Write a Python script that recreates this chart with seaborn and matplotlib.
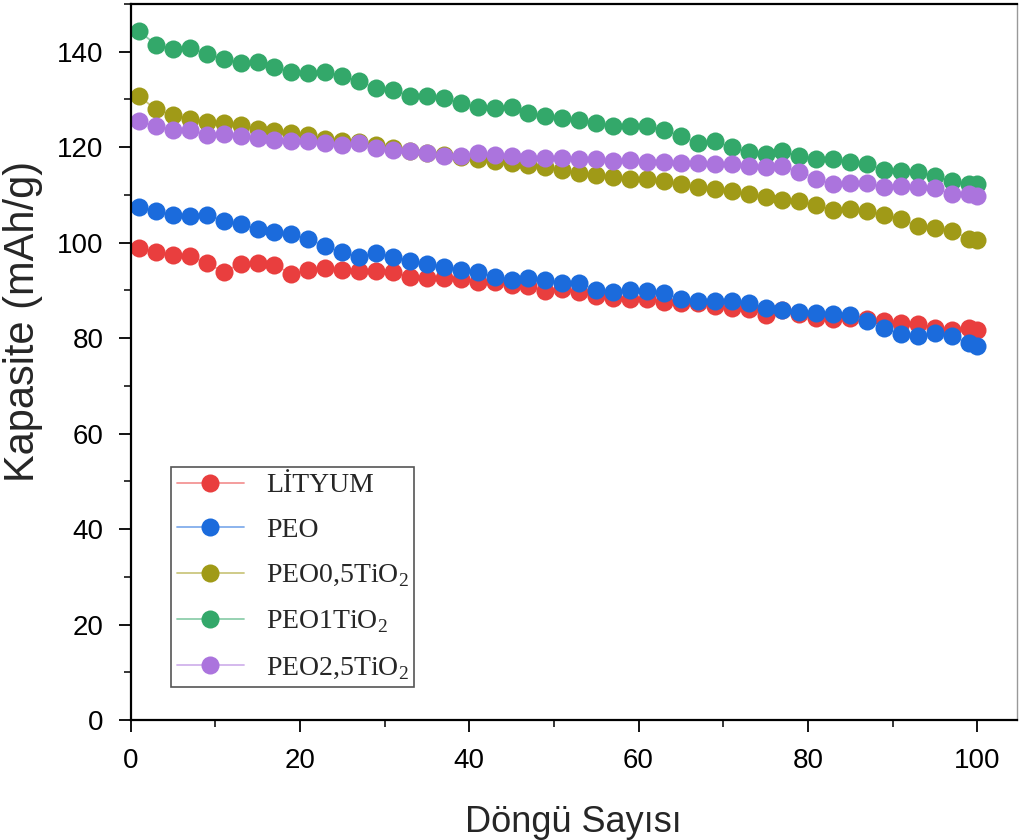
import matplotlib
matplotlib.use("Agg")
import matplotlib.pyplot as plt
import numpy as np
import pandas as pd
import seaborn as sns
from matplotlib.colors import to_rgb
from matplotlib.ticker import MultipleLocator

# Cycle numbers (every second cycle plus the last one)
cycles = list(range(1, 100, 2)) + [100]

# Discharge capacity (mAh/g) of each cell
lityum = [98.9, 98.0, 97.5, 97.3, 95.7, 93.9, 95.5, 95.7, 95.4, 93.4,
          94.3, 94.6, 94.3, 94.0, 94.0, 93.8, 92.9, 92.7, 92.7, 92.4,
          91.8, 91.7, 91.1, 91.0, 89.9, 90.3, 89.6, 88.9, 88.5, 88.3,
          88.2, 87.6, 87.4, 87.3, 86.8, 86.4, 86.1, 84.8, 85.8, 85.0,
          84.3, 84.0, 84.2, 84.0, 83.6, 83.2, 82.9, 82.2, 81.8, 82.2,
          81.8]
peo = [107.4, 106.6, 105.7, 105.5, 105.9, 104.6, 103.9, 102.9, 102.2, 101.8,
       100.8, 99.2, 98.0, 97.1, 97.8, 97.1, 96.2, 95.5, 95.0, 94.3,
       93.8, 92.9, 92.2, 92.6, 92.2, 91.5, 91.5, 90.1, 89.6, 90.1,
       89.9, 89.4, 88.2, 87.8, 87.7, 87.8, 87.4, 86.4, 85.8, 85.4,
       85.3, 85.0, 84.8, 83.5, 82.1, 80.9, 80.4, 81.1, 80.4, 79.0,
       78.3]
peo_05tio2 = [130.7, 127.9, 126.8, 125.9, 125.3, 125.1, 124.6, 123.8, 123.3, 123.0,
              122.5, 121.8, 121.4, 121.0, 120.5, 119.8, 119.3, 118.8, 118.3, 118.0,
              117.6, 117.1, 116.7, 116.3, 115.8, 115.2, 114.6, 114.1, 113.7, 113.4,
              113.4, 112.9, 112.2, 111.6, 111.3, 110.8, 110.1, 109.5, 109.0, 108.7,
              107.8, 106.9, 107.1, 106.7, 105.9, 105.0, 103.4, 103.1, 102.5, 100.8,
              100.6]
peo_1tio2 = [144.3, 141.5, 140.6, 140.8, 139.6, 138.5, 137.7, 137.8, 136.8, 135.8,
             135.6, 135.8, 134.9, 133.8, 132.4, 131.9, 130.8, 130.7, 130.3, 129.3,
             128.4, 128.2, 128.4, 127.2, 126.5, 126.1, 125.8, 125.1, 124.4, 124.5,
             124.4, 123.7, 122.3, 120.9, 121.2, 120.0, 119.0, 118.6, 119.1, 118.1,
             117.6, 117.6, 117.0, 116.4, 115.3, 115.1, 114.8, 113.9, 112.9, 112.3,
             112.2]
peo_25tio2 = [125.4, 124.4, 123.7, 123.7, 122.6, 122.8, 122.3, 121.9, 121.6, 121.2,
              121.2, 120.9, 120.5, 120.9, 119.8, 119.5, 119.1, 118.8, 118.1, 118.1,
              118.8, 118.4, 118.1, 117.7, 117.7, 117.7, 117.6, 117.6, 117.2, 117.4,
              117.0, 117.0, 116.7, 116.7, 116.4, 116.4, 116.0, 115.8, 116.0, 114.9,
              113.4, 112.2, 112.5, 112.5, 111.6, 111.8, 111.6, 111.5, 110.1, 110.1,
              109.7]

series_names = ["LİTYUM", "PEO", "PEO0,5TiO$_\\mathregular{2}$",
                "PEO1TiO$_\\mathregular{2}$", "PEO2,5TiO$_\\mathregular{2}$"]
series_values = [lityum, peo, peo_05tio2, peo_1tio2, peo_25tio2]
colors = ["#E93E3E", "#1B6BDC", "#A09A17", "#33A86A", "#AB74DD"]

frames = [pd.DataFrame({"Döngü": cycles, "Kapasite": vals, "Numune": name})
          for name, vals in zip(series_names, series_values)]
df = pd.concat(frames, ignore_index=True)

sns.set_style("ticks")
plt.rcParams["font.family"] = ["Liberation Sans", "DejaVu Sans"]
plt.rcParams["mathtext.fontset"] = "custom"
plt.rcParams["mathtext.rm"] = "Liberation Serif"

fig = plt.figure(figsize=(10.19, 8.4), dpi=100)
ax = fig.add_axes([130.5 / 1019, 120 / 840, (1017 - 130.5) / 1019, 716 / 840])

for name, col in zip(series_names, colors):
    sub = df[df["Numune"] == name]
    sns.lineplot(data=sub, x="Döngü", y="Kapasite", color=col, marker="o",
                 markersize=13, markeredgewidth=0, linewidth=1.3,
                 estimator=None, errorbar=None, legend=False, ax=ax)

# pale connecting lines, full-colour markers
for line, col in zip(ax.get_lines(), colors):
    rgb = np.array(to_rgb(col))
    line.set_color(tuple(rgb * 0.55 + 0.45))
    line.set_markerfacecolor(col)
    line.set_markeredgecolor(col)

ax.set_xlim(0, 104.7)
ax.set_ylim(0, 150)
ax.xaxis.set_major_locator(MultipleLocator(20))
ax.xaxis.set_minor_locator(MultipleLocator(10))
ax.yaxis.set_major_locator(MultipleLocator(20))
ax.yaxis.set_minor_locator(MultipleLocator(10))
ax.tick_params(which="major", direction="out", length=8.5, width=1.3,
               labelsize=20, colors="black")
ax.tick_params(axis="x", which="major", pad=12)
ax.tick_params(axis="y", which="major", pad=11)
ax.tick_params(which="minor", direction="out", length=5, width=1.3)
ax.tick_params(top=False, right=False, which="both")

for side in ["left", "bottom", "top"]:
    ax.spines[side].set_color("black")
    ax.spines[side].set_linewidth(1.6)
ax.spines["right"].set_color("#999999")
ax.spines["right"].set_linewidth(1.0)

ax.set_xlabel("Döngü Sayısı", fontsize=26, labelpad=22)
ax.set_ylabel("Kapasite (mAh/g)", fontsize=30)
ax.yaxis.set_label_coords(-0.099, 0.556)

leg = ax.legend(handles=ax.get_lines(), labels=series_names,
                loc="lower left", bbox_to_anchor=(0.046, 0.046),
                prop={"family": "Liberation Serif", "size": 20},
                frameon=True, fancybox=False, framealpha=1,
                edgecolor="#555555", borderaxespad=0, borderpad=0.2,
                handlelength=2.4, handletextpad=0.8, labelspacing=0.7)
leg.get_frame().set_linewidth(1.2)

fig.savefig("out.png", dpi=100)
